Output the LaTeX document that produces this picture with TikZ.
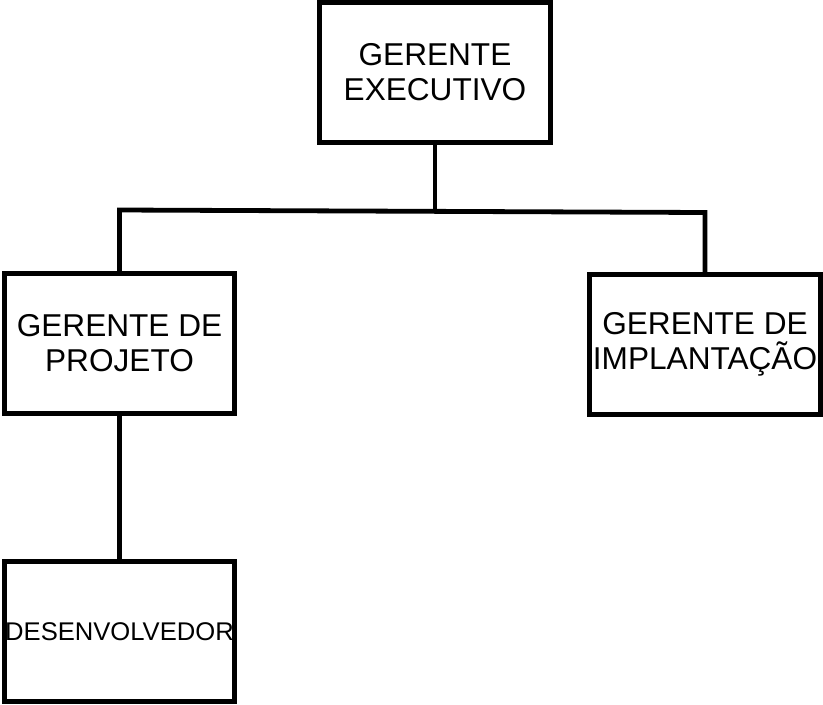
\documentclass[tikz,border=0pt]{standalone}
\usepackage{fontspec}
\setmainfont{Liberation Sans}
\begin{document}
\begin{tikzpicture}[x=1pt,y=-1pt,
  orgbox/.style={draw=black,line width=5.5pt,inner sep=0pt,align=center,
    minimum width=231pt,minimum height=140pt,
    font=\fontsize{31.6}{35}\selectfont},
  conn/.style={draw=black,line width=4.8pt,line join=miter}]
\useasboundingbox (0,0) rectangle (823,705);
\node[orgbox] (exec) at (435,72.5) {GERENTE\\EXECUTIVO};
\node[orgbox,minimum width=230pt] (proj) at (119.5,343.5) {GERENTE DE\\PROJETO};
\node[orgbox] (impl) at (705,344.5) {GERENTE DE\\IMPLANTAÇÃO};
\node[orgbox,minimum width=230pt,font=\fontsize{25.6}{28}\selectfont] (dev) at (119.5,631.5) {DESENVOLVEDOR};
\coordinate (hubL) at (119.5,210);
\coordinate (hubC) at (435,211.3);
\coordinate (hubR) at (705,212.5);
\draw[conn] (exec.south) -- (hubC);
\draw[conn] (proj.north) -- (hubL) -- (hubR) -- (impl.north);
\draw[conn] (proj.south) -- (dev.north);
\end{tikzpicture}
\end{document}
